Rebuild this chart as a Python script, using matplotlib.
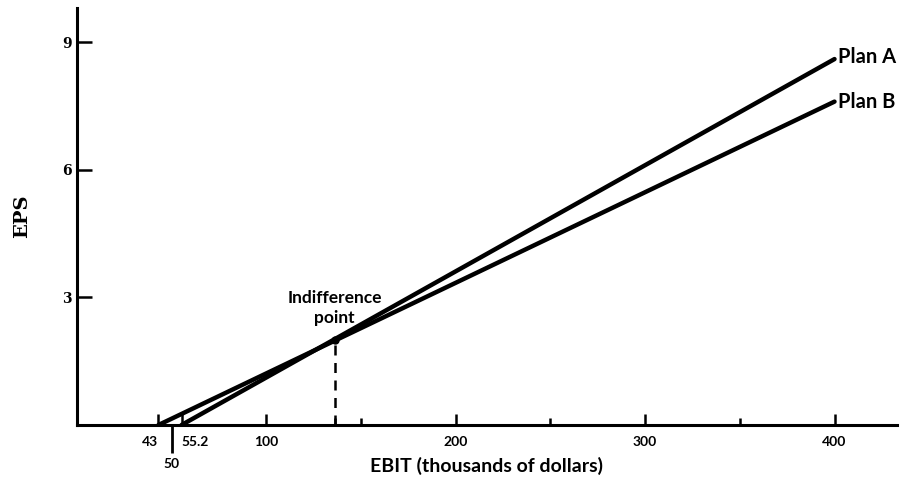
import matplotlib
matplotlib.use("Agg")
import matplotlib.pyplot as plt

plt.rcParams["font.family"] = ["Lato", "DejaVu Sans"]

# EBIT (thousands of dollars) vs EPS for two financing plans
plan_a_ebit = [55.2, 400]
plan_a_eps = [0, 8.6]
plan_b_ebit = [43, 400]
plan_b_eps = [0, 7.6]

indiff_ebit = 136
indiff_eps = 2.0

major_ticks = [43, 55.2, 100, 200, 300, 400]
major_labels = ["43", "55.2", "100", "200", "300", "400"]
minor_ticks = [136, 150, 250, 350]
low_tick = [50]
low_label = ["50"]
y_ticks = [3, 6, 9]

fig = plt.figure(figsize=(9.07, 4.78), dpi=100)
ax = fig.add_axes([77 / 907, 1 - 425 / 478, 820 / 907, 417 / 478])

ax.plot(plan_a_ebit, plan_a_eps, color="black", lw=3.2, solid_capstyle="round")
ax.plot(plan_b_ebit, plan_b_eps, color="black", lw=3.2, solid_capstyle="round")
ax.plot([indiff_ebit, indiff_ebit], [0, indiff_eps], color="black", lw=1.8,
        ls=(0, (4, 3)))
ax.plot([indiff_ebit], [indiff_eps], "o", color="black", ms=5)

ax.text(indiff_ebit, indiff_eps + 0.75, "Indifference\npoint", ha="center",
        va="center", fontsize=12.5, fontweight="bold", linespacing=1.35)
ax.text(plan_a_ebit[-1] + 2, plan_a_eps[-1] + 0.05, "Plan A", ha="left",
        va="center", fontsize=14.5, fontweight="bold")
ax.text(plan_b_ebit[-1] + 2, plan_b_eps[-1], "Plan B", ha="left",
        va="center", fontsize=14.5, fontweight="bold")

ax.set_xlim(0, 433)
ax.set_ylim(0, 9.8)
for s in ["top", "right"]:
    ax.spines[s].set_visible(False)
for s in ["left", "bottom"]:
    ax.spines[s].set_linewidth(2.2)

ax.set_yticks(y_ticks)
ax.set_yticklabels([str(v) for v in y_ticks], fontsize=10, fontweight="bold",
                   family="DejaVu Serif")
ax.tick_params(axis="y", direction="in", length=11, width=1.8, pad=4)

ax.set_xticks(major_ticks)
ax.set_xticklabels(major_labels, fontsize=10, fontweight="bold")
ax.set_xticks(minor_ticks, minor=True)
ax.tick_params(axis="x", which="major", direction="in", length=8, width=1.8, pad=8)
ax.tick_params(axis="x", which="minor", direction="in", length=5, width=1.8)
lbls = ax.get_xticklabels()
lbls[0].set_ha("right")
lbls[1].set_ha("left")

sec = ax.secondary_xaxis("bottom")
sec.spines["bottom"].set_visible(False)
sec.set_xticks(low_tick)
sec.set_xticklabels(low_label, fontsize=10, fontweight="bold")
sec.tick_params(axis="x", direction="out", length=20, width=2, pad=4)

ax.set_xlabel("EBIT (thousands of dollars)", fontsize=14, fontweight="bold",
              labelpad=6)
ax.set_ylabel("EPS", fontsize=14, fontweight="bold", family="DejaVu Serif",
              labelpad=22)

fig.savefig("out.png", dpi=100)
